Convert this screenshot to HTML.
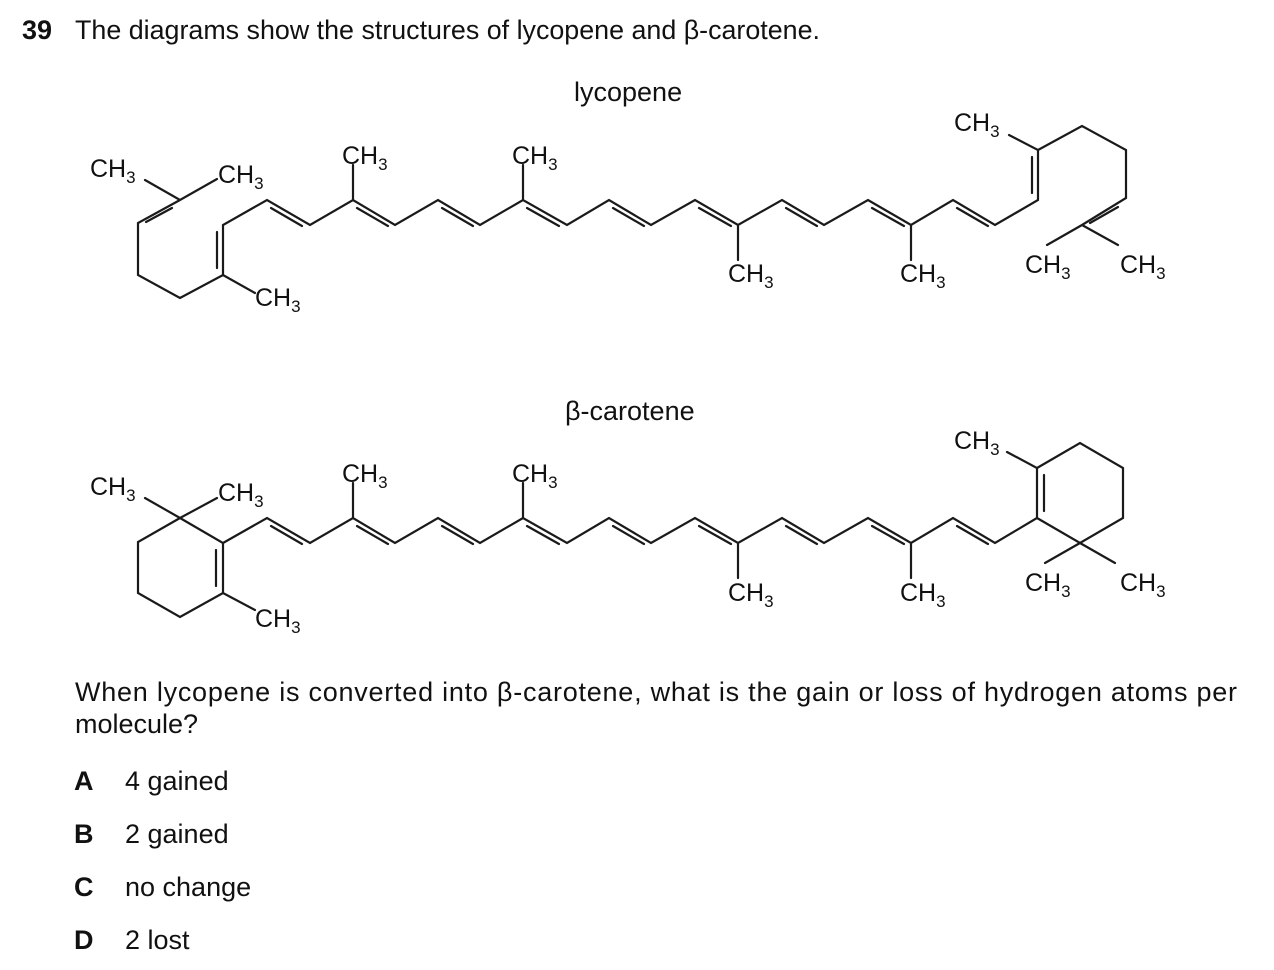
<!DOCTYPE html>
<html><head><meta charset="utf-8"><style>
html,body{margin:0;padding:0;background:#fff;width:1274px;height:970px;overflow:hidden}
svg{position:absolute;left:0;top:0}
text{font-family:"Liberation Sans",Arial,sans-serif;fill:#111}
.l{font-size:25px}
.t{font-size:27px}
</style></head><body>
<svg width="1274" height="970" viewBox="0 0 1274 970">
<text x="22" y="39" class="t" font-weight="bold">39</text>
<text x="75" y="39" class="t" textLength="745" lengthAdjust="spacingAndGlyphs">The diagrams show the structures of lycopene and β-carotene.</text>
<text x="574" y="101" class="t">lycopene</text>
<text x="565" y="420" class="t">β-carotene</text>

<g stroke="#1a1a1a" stroke-width="2.2" fill="none" stroke-linecap="round">
<path d="M145,180 L180,200 L217,179 M180,200 L138,223 L138,275 L180,298 L223,275 L255,293 M223,275 L223,225 L267,200 L310,225 L353,200 L395,225 L438,200 L480,225 L523,200 L567,225 L609,200 L651,225 L695,200 L738,225 L782,200 L824,225 L868,200 L911,225 L953,200 L995,225 L1038,200 L1038,150 L1009,135 M1038,150 L1082,126 L1126,150 L1126,198 L1082,225 L1047,245 M1082,225 L1118,245 M353,200 L353,165 M523,200 L523,165 M738,225 L738,260 M911,225 L911,260"/>
<path d="M172,208 L146,222 M217,268 L217,232 M1032,157 L1032,193 M1118,207 L1090,223"/>
<g id="dl">
<path d="M271,208 L302,226 M357,208 L388,226 M442,208 L473,226 M527,208 L559,226 M613,208 L644,226 M699,208 L731,226 M786,208 L817,226 M872,208 L904,226 M957,208 L988,226"/>
</g>
<path d="M145,498 L180,518 L217,498 M180,518 L138,542 L138,593 L180,617 L223,593 L255,610 M223,593 L223,543 L180,518 M223,543 L267,518 L310,543 L353,518 L395,543 L438,518 L480,543 L523,518 L567,543 L609,518 L651,543 L695,518 L738,543 L782,518 L824,543 L868,518 L911,543 L953,518 L995,543 L1037,518 L1037,468 L1007,452 M1037,468 L1080,443 L1123,468 L1123,518 L1080,543 L1037,518 M1080,543 L1045,563 M1080,543 L1115,563 M353,518 L353,483 M523,518 L523,483 M738,543 L738,578 M911,543 L911,578"/>
<path d="M216,550 L216,586 M1044,475 L1044,511"/>
<use href="#dl" transform="translate(0,318)"/>
</g>

<g class="l">
<text x="90" y="177">CH<tspan font-size="17" dy="6">3</tspan></text>
<text x="218" y="183">CH<tspan font-size="17" dy="6">3</tspan></text>
<text x="342" y="164">CH<tspan font-size="17" dy="6">3</tspan></text>
<text x="512" y="164">CH<tspan font-size="17" dy="6">3</tspan></text>
<text x="255" y="306">CH<tspan font-size="17" dy="6">3</tspan></text>
<text x="728" y="282">CH<tspan font-size="17" dy="6">3</tspan></text>
<text x="900" y="282">CH<tspan font-size="17" dy="6">3</tspan></text>
<text x="954" y="131">CH<tspan font-size="17" dy="6">3</tspan></text>
<text x="1025" y="273">CH<tspan font-size="17" dy="6">3</tspan></text>
<text x="1120" y="273">CH<tspan font-size="17" dy="6">3</tspan></text>
<text x="90" y="495">CH<tspan font-size="17" dy="6">3</tspan></text>
<text x="218" y="501">CH<tspan font-size="17" dy="6">3</tspan></text>
<text x="342" y="482">CH<tspan font-size="17" dy="6">3</tspan></text>
<text x="512" y="482">CH<tspan font-size="17" dy="6">3</tspan></text>
<text x="255" y="627">CH<tspan font-size="17" dy="6">3</tspan></text>
<text x="728" y="601">CH<tspan font-size="17" dy="6">3</tspan></text>
<text x="900" y="601">CH<tspan font-size="17" dy="6">3</tspan></text>
<text x="954" y="449">CH<tspan font-size="17" dy="6">3</tspan></text>
<text x="1025" y="591">CH<tspan font-size="17" dy="6">3</tspan></text>
<text x="1120" y="591">CH<tspan font-size="17" dy="6">3</tspan></text>
</g>

<text x="75" y="701" class="t" textLength="1162" lengthAdjust="spacing">When lycopene is converted into β-carotene, what is the gain or loss of hydrogen atoms per</text>
<text x="75" y="733" class="t">molecule?</text>
<text x="74" y="790" class="t" font-weight="bold">A</text><text x="125" y="790" class="t">4 gained</text>
<text x="74" y="843" class="t" font-weight="bold">B</text><text x="125" y="843" class="t">2 gained</text>
<text x="74" y="896" class="t" font-weight="bold">C</text><text x="125" y="896" class="t">no change</text>
<text x="74" y="949" class="t" font-weight="bold">D</text><text x="125" y="949" class="t">2 lost</text>
</svg>
</body></html>
